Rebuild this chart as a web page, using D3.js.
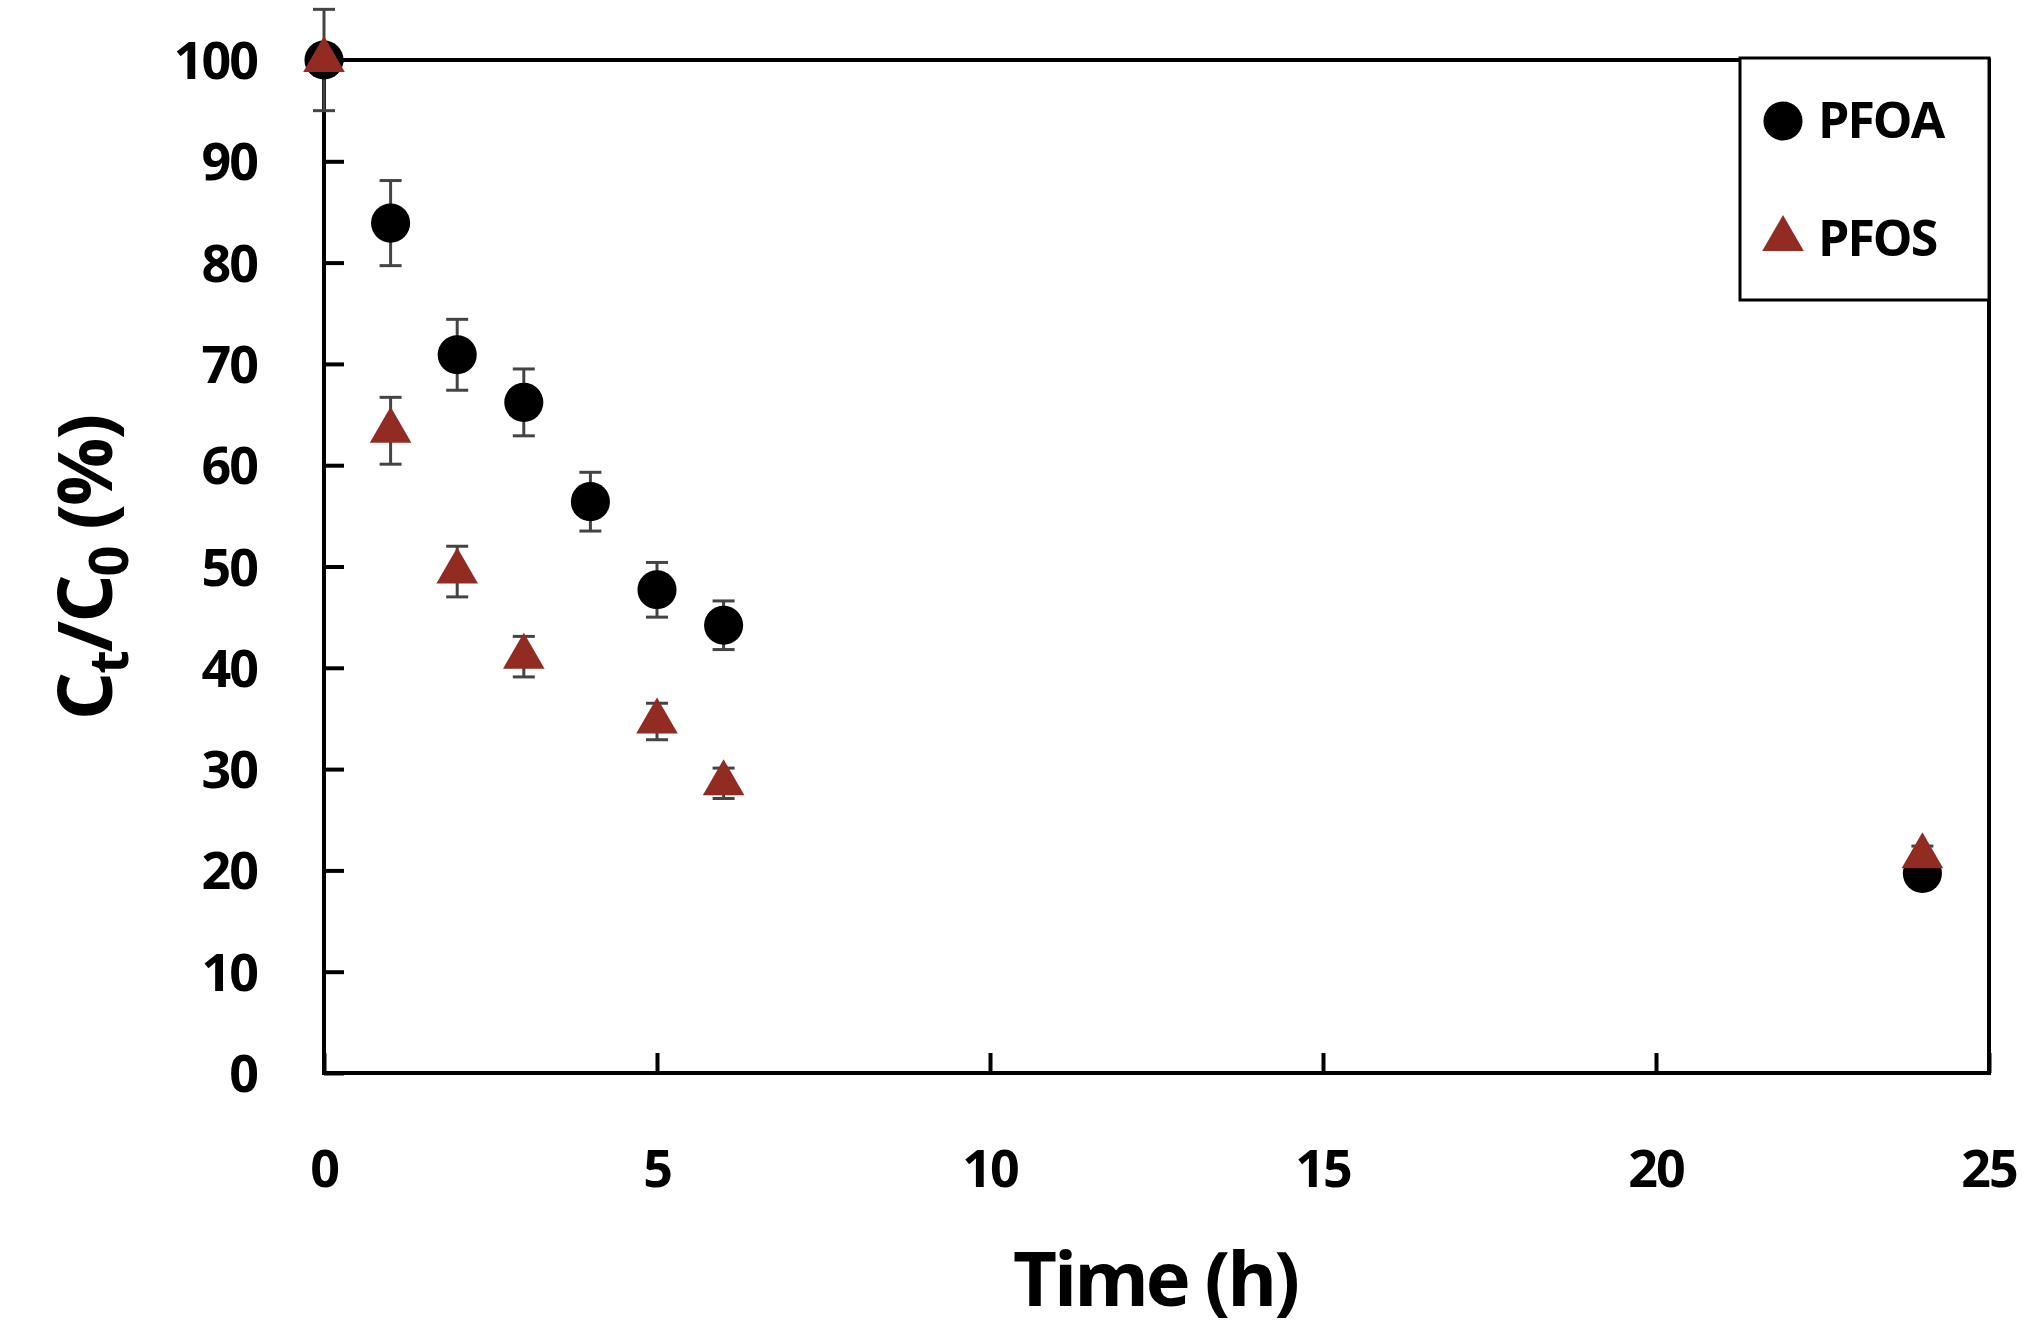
<!DOCTYPE html>
<html><head><meta charset="utf-8">
<script src="https://cdn.jsdelivr.net/npm/d3@7"></script>
<style>body{margin:0;background:#fff}text{font-family:"Open Sans",sans-serif;font-weight:700}</style>
</head><body><svg id="chart" width="2035" height="1338"></svg>
<script>
// data
var pfoaTime = [0, 1, 2, 3, 4, 5, 6, 24];
var pfoaVal = [100, 83.9, 70.9, 66.2, 56.4, 47.7, 44.2, 19.7];
var pfoaErr = [5, 4.2, 3.5, 3.3, 2.9, 2.7, 2.4, 1];
var pfosTime = [0, 1, 2, 3, 5, 6, 24];
var pfosVal = [100, 63.4, 49.5, 41.1, 34.7, 28.6, 21.4];
var pfosErr = [1.5, 3.3, 2.5, 2, 1.8, 1.5, 1];
var xTicks = [0, 5, 10, 15, 20, 25];
var yTicks = [0, 10, 20, 30, 40, 50, 60, 70, 80, 90, 100];

var svg = d3.select("#chart");
var pLeft = 324, pRight = 1989, pTop = 60, pBottom = 1073;
var x = d3.scaleLinear().domain([0, 25]).range([pLeft, pRight]);
var y = d3.scaleLinear().domain([0, 100]).range([pBottom, pTop]);

// frame
svg.append("rect").attr("x", pLeft).attr("y", pTop).attr("width", pRight - pLeft).attr("height", pBottom - pTop)
  .attr("fill", "none").attr("stroke", "#000").attr("stroke-width", 4);

var yAxis = svg.append("g").attr("transform", "translate(" + pLeft + ",0)")
  .call(d3.axisRight(y).tickValues(yTicks).tickSize(20).tickFormat(""));
yAxis.select(".domain").remove();
yAxis.selectAll("line").attr("stroke", "#000").attr("stroke-width", 4);
svg.selectAll(".ylab").data(yTicks).enter().append("text")
  .attr("x", 257).attr("y", d => y(d) + 19).attr("text-anchor", "end")
  .attr("font-size", 52).attr("letter-spacing", -2).text(d => d);

var xAxis = svg.append("g").attr("transform", "translate(0," + pBottom + ")")
  .call(d3.axisTop(x).tickValues(xTicks).tickSize(20).tickFormat(""));
xAxis.select(".domain").remove();
xAxis.selectAll("line").attr("stroke", "#000").attr("stroke-width", 4);
svg.selectAll(".xlab").data(xTicks).enter().append("text")
  .attr("x", d => x(d)).attr("y", 1187).attr("text-anchor", "middle")
  .attr("font-size", 52).attr("letter-spacing", -2).text(d => d);

svg.append("text").attr("x", 1155).attr("y", 1306).attr("text-anchor", "middle")
  .attr("font-size", 76).attr("letter-spacing", -3).text("Time (h)");
var yt = svg.append("text").attr("transform", "translate(112,568) rotate(-90)")
  .attr("text-anchor", "middle").attr("font-size", 76).attr("letter-spacing", -2);
yt.append("tspan").text("C");
yt.append("tspan").attr("font-size", 54).attr("dy", 16).text("t");
yt.append("tspan").attr("dy", -16).text("/C");
yt.append("tspan").attr("font-size", 54).attr("dy", 16).text("0");
yt.append("tspan").attr("dy", -16).text(" (%)");

function errBars(t, v, e) {
  var g = svg.append("g").attr("stroke", "#444").attr("stroke-width", 3);
  t.forEach(function (d, i) {
    var cx = x(d), y1 = y(v[i] + e[i]), y2 = y(v[i] - e[i]);
    g.append("line").attr("x1", cx).attr("x2", cx).attr("y1", y1).attr("y2", y2);
    g.append("line").attr("x1", cx - 11).attr("x2", cx + 11).attr("y1", y1).attr("y2", y1);
    g.append("line").attr("x1", cx - 11).attr("x2", cx + 11).attr("y1", y2).attr("y2", y2);
  });
}
errBars(pfoaTime, pfoaVal, pfoaErr);
errBars(pfosTime, pfosVal, pfosErr);

var circ = d3.symbol().type(d3.symbolCircle).size(1200);
var tri = d3.symbol().type(d3.symbolTriangle).size(750);
svg.selectAll(".pfoa").data(pfoaTime).enter().append("path")
  .attr("d", circ).attr("fill", "#000")
  .attr("transform", (d, i) => "translate(" + x(d) + "," + y(pfoaVal[i]) + ")");
svg.selectAll(".pfos").data(pfosTime).enter().append("path")
  .attr("d", tri).attr("fill", "#922b21")
  .attr("transform", (d, i) => "translate(" + x(d) + "," + y(pfosVal[i]) + ")");

// legend
svg.append("rect").attr("x", 1740).attr("y", 58).attr("width", 249).attr("height", 242)
  .attr("fill", "#fff").attr("stroke", "#000").attr("stroke-width", 3);
svg.append("path").attr("d", circ).attr("fill", "#000").attr("transform", "translate(1783,121)");
svg.append("path").attr("d", tri).attr("fill", "#922b21").attr("transform", "translate(1783,239)");
svg.append("text").attr("x", 1818).attr("y", 138).attr("font-size", 50).attr("letter-spacing", -2).text("PFOA");
svg.append("text").attr("x", 1818).attr("y", 256).attr("font-size", 50).attr("letter-spacing", -2).text("PFOS");
</script></body></html>
